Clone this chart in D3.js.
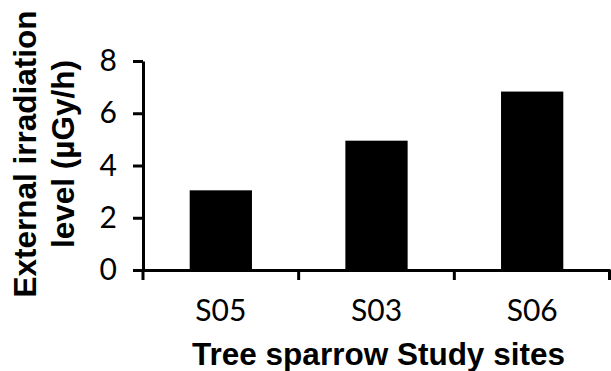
<!DOCTYPE html>
<html>
<head>
<meta charset="utf-8">
<script src="https://cdn.jsdelivr.net/npm/d3@7"></script>
<style>
  body { margin: 0; background: #fff; }
</style>
</head>
<body>
<script>
// data
const sites = ['S05', 'S03', 'S06'];
const irradiation = [3.05, 4.95, 6.83];
const yTicks = [0, 2, 4, 6, 8];

const W = 611, H = 371;
const margin = { top: 61, right: 1, bottom: 101, left: 143 };

const svg = d3.select('body')
    .append('svg')
    .attr('width', W)
    .attr('height', H);

svg.append('rect')
    .attr('width', W)
    .attr('height', H)
    .attr('fill', 'white');

const x = d3.scaleBand()
    .domain(sites)
    .range([margin.left, W - margin.right])
    .paddingInner(0.6)
    .paddingOuter(0.3);

const y = d3.scaleLinear()
    .domain([0, 8])
    .range([H - margin.bottom, margin.top]);

const tickFont = 'Lato, "Open Sans", sans-serif';
const titleFont = '"Liberation Sans", Arial, sans-serif';

// bars
svg.append('g')
    .selectAll('rect')
    .data(sites)
    .join('rect')
    .attr('x', d => x(d))
    .attr('y', (d, i) => y(irradiation[i]))
    .attr('width', x.bandwidth())
    .attr('height', (d, i) => y(0) - y(irradiation[i]))
    .attr('fill', '#000');

// y axis
const yAxis = svg.append('g')
    .attr('transform', `translate(${margin.left},0)`)
    .call(d3.axisLeft(y).tickValues(yTicks).tickSize(10).tickSizeOuter(0).tickPadding(16));
yAxis.select('.domain').attr('stroke-width', 3);
yAxis.selectAll('.tick line').attr('stroke-width', 3);
yAxis.selectAll('.tick text')
    .style('font-family', tickFont)
    .style('font-size', '30px')
    .attr('fill', '#000');

// x axis: labels under the bands, ticks on the category boundaries
const xAxis = svg.append('g')
    .attr('transform', `translate(0,${y(0)})`)
    .call(d3.axisBottom(x).tickSize(0).tickPadding(30));
xAxis.select('.domain').attr('stroke-width', 3);
xAxis.selectAll('.tick text')
    .style('font-family', tickFont)
    .style('font-size', '30px')
    .attr('fill', '#000');

const edges = d3.range(sites.length + 1).map(i => x.range()[0] + i * x.step());
xAxis.selectAll('.edge')
    .data(edges)
    .join('line')
    .attr('class', 'edge')
    .attr('x1', d => Math.min(d, W - 1.5))
    .attr('x2', d => Math.min(d, W - 1.5))
    .attr('y1', 0)
    .attr('y2', 10)
    .attr('stroke', '#000')
    .attr('stroke-width', 3);

// axis titles
svg.append('text')
    .attr('x', 378.5)
    .attr('y', 365)
    .attr('text-anchor', 'middle')
    .style('font-family', titleFont)
    .style('font-size', '31.5px')
    .style('font-weight', 'bold')
    .text('Tree sparrow Study sites');

const yTitle = svg.append('text')
    .attr('transform', 'translate(36,154) rotate(-90)')
    .attr('text-anchor', 'middle')
    .style('font-family', titleFont)
    .style('font-size', '31.5px')
    .style('font-weight', 'bold');
yTitle.append('tspan').attr('x', 0).attr('y', 0).text('External irradiation');
yTitle.append('tspan').attr('x', 0).attr('y', 38).text('level (µGy/h)');
</script>
</body>
</html>
